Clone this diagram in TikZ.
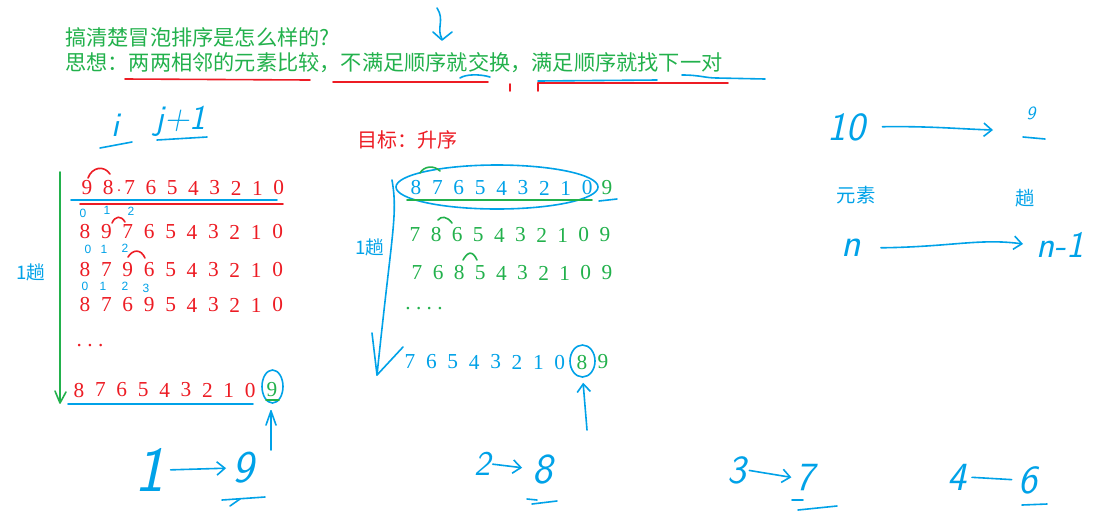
\documentclass[tikz,border=0pt]{standalone}
\usepackage{fontspec}
\setmainfont{Liberation Serif}
\newfontfamily\cjk{Noto Sans CJK SC}
\newfontfamily\handfont{Liberation Sans}
\usetikzlibrary{arrows.meta}
\definecolor{mygreen}{RGB}{34,177,76}
\definecolor{myred}{RGB}{237,28,36}
\definecolor{myblue}{RGB}{0,162,232}
\begin{document}
\begin{tikzpicture}[x=0.75pt,y=-0.75pt,
  dig/.style={font=\fontsize{16}{16}\selectfont,inner sep=0pt},
  cn/.style={font=\cjk\fontsize{#1}{#1}\selectfont,inner sep=0pt},
  cn/.default=15.9,
  hw/.style={font=\sffamily\itshape\fontsize{#1}{#1}\selectfont,text=myblue,inner sep=0pt},
  hw/.default=28,
  idx/.style={font=\handfont\fontsize{9}{9}\selectfont,text=myblue,inner sep=0pt},
  pen/.style={myblue,line width=1.2pt,line cap=round,line join=round},
  rpen/.style={myred,line width=1.2pt,line cap=round,line join=round},
  gpen/.style={mygreen,line width=1.2pt,line cap=round,line join=round},
  barb/.style={-{Straight Barb[length=6pt,width=10pt]}},
]
\useasboundingbox[fill=white] (0,0) rectangle (1102,519);

% ---------- top text ----------
\node[cn,text=mygreen,anchor=west] (title) at (65,37) {搞清楚冒泡排序是怎么样的?};
\node[cn,text=mygreen,anchor=west] (idea) at (65,63) {思想：两两相邻的元素比较，不满足顺序就交换，满足顺序就找下一对};
\draw[pen] (437,8) .. controls (445,20) and (436,28) .. (442,39);
\draw[pen] (433,32) -- (442,40) -- (452,32);
\draw[rpen] (125,79) -- (310,80);
\draw[rpen] (333,82) -- (488,82);
\draw[pen] (460,78) .. controls (466,74) and (480,74) .. (490,77);
\draw[rpen] (510,84) -- (510,91);
\draw[rpen] (538,91) -- (538,83) -- (728,83);
\draw[pen] (538,81) -- (657,80);
\draw[pen] (682,75) .. controls (700,75) and (705,78) .. (717,78) -- (765,79);

% ---------- left part ----------
\node[hw=26] (i) at (115,125) {i};
\draw[pen] (100,148) -- (132,142);
\node[hw=26] (jp) at (181,121) {j+1};
\draw[pen] (157,140) -- (207,137);

\foreach \d [count=\k from 0] in {9,8,7,6,5,4,3,2,1,0}
  \node[dig,text=myred] (a\k) at (87+21.3*\k,188) {\d};
\foreach \d [count=\k from 0] in {8,9,7,6,5,4,3,2,1,0}
  \node[dig,text=myred] (b\k) at (85+21.4*\k,232) {\d};
\foreach \d [count=\k from 0] in {8,7,9,6,5,4,3,2,1,0}
  \node[dig,text=myred] (c\k) at (85+21.4*\k,270) {\d};
\foreach \d [count=\k from 0] in {8,7,6,9,5,4,3,2,1,0}
  \node[dig,text=myred] (d\k) at (85+21.4*\k,305) {\d};
\node[dig,text=myred] (ldots) at (90,346) {.\ .\ .};
\foreach \d [count=\k from 0] in {8,7,6,5,4,3,2,1,0}
  \node[dig,text=myred] (e\k) at (79+21.4*\k,390) {\d};
\node[dig,text=mygreen] (e9) at (272,390) {9};
\fill[myred] (119,190) circle (1);

\draw[pen] (71,200) -- (277,200);
\draw[rpen] (80,204) -- (283,204);
\draw[rpen] (88,178) .. controls (92,167) and (104,165) .. (110,174);
\draw[rpen] (112,223) .. controls (115,216) and (121,215) .. (125,222);
\draw[rpen] (128,257) .. controls (133,249) and (141,249) .. (145,258);

\node[idx] (ia0) at (83,213) {0};
\node[idx] (ia1) at (107,210) {1};
\node[idx] (ia2) at (131,211) {2};
\node[idx] (ib0) at (88,249) {0};
\node[idx] (ib1) at (104,249) {1};
\node[idx] (ib2) at (125,248) {2};
\node[idx] (ic0) at (85,286) {0};
\node[idx] (ic1) at (103,286) {1};
\node[idx] (ic2) at (125,286) {2};
\node[idx] (ic3) at (146,288) {3};

\draw[gpen] (60,172) -- (60,402);
\draw[gpen] (55,391) -- (60,403) -- (66,392);
\node[cn=14,text=myblue] (trip1) at (31,272) {1趟};

\draw[pen] (272.5,386.5) ellipse [x radius=10.5,y radius=16.5];
\draw[gpen] (266,400) -- (279,400);
\draw[pen] (68,404) -- (253,404);
\draw[pen] (271,450) -- (271,411);
\draw[pen] (266,425) -- (271,411) -- (276,425);

% ---------- middle part ----------
\node[cn=15,text=myred] (goal) at (407,140) {目标：升序};
\foreach \d [count=\k from 0] in {8,7,6,5,4,3,2,1,0}
  \node[dig,text=myblue] (m\k) at (416+21.4*\k,188) {\d};
\node[dig,text=mygreen] (m9) at (607,188) {9};
\draw[pen] (497,187) ellipse [x radius=101,y radius=22];
\draw[gpen] (407,200) -- (592,200);
\draw[pen] (599,201) -- (617,199);
\draw[gpen] (420,173) .. controls (424,166) and (434,165) .. (440,171);
\foreach \d [count=\k from 0] in {7,8,6,5,4,3,2,1,0,9}
  \node[dig,text=mygreen] (n\k) at (415+21.1*\k,235) {\d};
\draw[gpen] (438,220) .. controls (441,216) and (447,216) .. (452,223);
\foreach \d [count=\k from 0] in {7,6,8,5,4,3,2,1,0,9}
  \node[dig,text=mygreen] (o\k) at (417+21.1*\k,273) {\d};
\draw[gpen] (463,260) .. controls (467,253) and (472,249) .. (477,260);
\node[dig,text=mygreen] (mdots) at (424,309) {.\ .\ .\ .};
\foreach \d [count=\k from 0] in {7,6,5,4,3,2,1,0}
  \node[dig,text=myblue] (p\k) at (410+21.4*\k,362) {\d};
\node[dig,text=mygreen] (p8) at (582,362) {8};
\node[dig,text=mygreen] (p9) at (603,362) {9};
\draw[pen] (582.5,361) ellipse [x radius=12.5,y radius=16];
\coordinate (upfoot) at (587,430);
\draw[pen,barb,shorten >=10pt] (upfoot) -- (p8.south);

\draw[pen] (392,180) .. controls (398,215) and (392,230) .. (377,375);
\draw[pen] (372,333) -- (377,375) -- (403,347);
\node[cn=14,text=myblue] (trip2) at (370,247) {1趟};

% ---------- right part ----------
\node[hw=30] (ten) at (846,127) {10};
\coordinate (tenend) at (993,130);
\draw[pen,barb,shorten <=13pt] (ten.east) .. controls (930,126) and (960,129) .. (tenend);
\node[hw=14] (nine) at (1031,113) {9};
\draw[pen] (1023,137) -- (1045,139);
\node[cn=14.5,text=myblue] (elem) at (856,195) {元素};
\node[cn=14.5,text=myblue] (trip3) at (1025,198) {趟};
\node[hw=30] (n) at (851,248) {n};
\coordinate (nend) at (1023,244);
\draw[pen,barb,shorten <=15pt] (n.east) .. controls (950,247) and (980,238) .. (nend);
\node[hw=28] (nm1) at (1060,245) {n-1};

% ---------- bottom ----------
\node[hw=48] (one) at (150,470) {1};
\node[hw=34] (b9) at (243,468) {9};
\draw[pen,barb,shorten <=4pt,shorten >=4.5pt] (one.east) -- (b9.west);
\draw[pen] (222,500) -- (265,497);
\draw[pen] (230,506) -- (240,499);

\node[hw=26] (b2) at (483,464) {2};
\node[hw=32] (b8) at (543,469) {8};
\draw[pen,barb,shorten <=1pt,shorten >=8pt] (b2.east) -- (b8.west);
\draw[pen] (527,499) -- (537,500);
\draw[pen] (532,504) -- (557,501);

\node[hw=30] (b3) at (737,470) {3};
\node[hw=30] (b7) at (805,478) {7};
\draw[pen,barb,shorten <=2pt,shorten >=3pt] (b3.east) -- (b7.west);
\draw[pen] (792,500) -- (803,500);
\draw[pen] (798,510) -- (837,506);

\node[hw=30] (b4) at (957,477) {4};
\node[hw=30] (b6) at (1028,480) {6};
\draw[pen,shorten <=4pt,shorten >=5pt] (b4.east) -- (b6.west);
\draw[pen] (1022,505) -- (1047,504);
\end{tikzpicture}
\end{document}
